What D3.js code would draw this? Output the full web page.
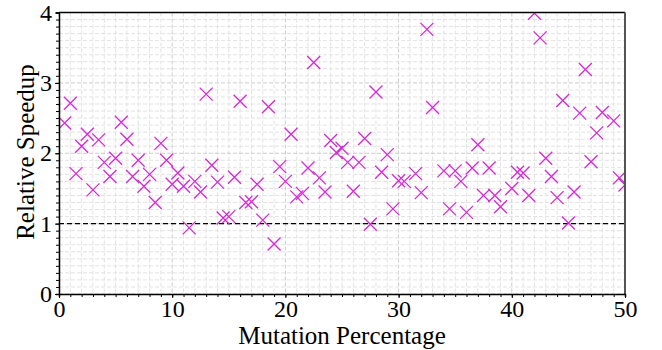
<!DOCTYPE html>
<html>
<head>
<meta charset="utf-8">
<script src="https://cdn.jsdelivr.net/npm/d3@7"></script>
<style>
  body { margin: 0; background: #fff; }
  svg { display: block; }
</style>
</head>
<body>
<div id="chart"></div>
<script>
// mutation percentage for each run
const mutation = [
  0.5, 1.0, 1.5, 2.0, 2.5, 3.0, 3.5, 4.0, 4.5, 5.0,
  5.5, 6.0, 6.5, 7.0, 7.5, 8.0, 8.5, 9.0, 9.5, 10.0,
  10.5, 11.0, 11.5, 12.0, 12.5, 13.0, 13.5, 14.0, 14.5, 15.0,
  15.5, 16.0, 16.5, 17.0, 17.5, 18.0, 18.5, 19.0, 19.5, 20.0,
  20.5, 21.0, 21.5, 22.0, 22.5, 23.0, 23.5, 24.0, 24.5, 25.0,
  25.5, 26.0, 26.5, 27.0, 27.5, 28.0, 28.5, 29.0, 29.5, 30.0,
  30.5, 31.5, 32.0, 32.5, 33.0, 34.0, 34.5, 35.0, 35.5, 36.0,
  36.5, 37.0, 37.5, 38.0, 38.5, 39.0, 40.0, 40.5, 41.0, 41.5,
  42.0, 42.5, 43.0, 43.5, 44.0, 44.5, 45.0, 45.5, 46.0, 46.5,
  47.0, 47.5, 48.0, 49.0, 49.5, 50.0
]
// relative speedup measured at each mutation percentage
const speedup = [
  2.43, 2.71, 1.71, 2.10, 2.27, 1.48, 2.19, 1.87, 1.67, 1.93,
  2.44, 2.20, 1.67, 1.90, 1.53, 1.70, 1.30, 2.14, 1.90, 1.56,
  1.72, 1.53, 0.94, 1.60, 1.45, 2.84, 1.83, 1.59, 1.08, 1.10,
  1.66, 2.74, 1.30, 1.31, 1.56, 1.05, 2.66, 0.71, 1.81, 1.60,
  2.27, 1.38, 1.43, 1.79, 3.29, 1.65, 1.45, 2.18, 2.01, 2.07,
  1.87, 1.46, 1.87, 2.21, 0.99, 2.87, 1.73, 1.98, 1.21, 1.61,
  1.60, 1.71, 1.44, 3.76, 2.65, 1.75, 1.21, 1.75, 1.60, 1.16,
  1.79, 2.12, 1.40, 1.79, 1.40, 1.24, 1.50, 1.73, 1.72, 1.40,
  3.99, 3.64, 1.93, 1.67, 1.37, 2.75, 1.01, 1.45, 2.57, 3.19,
  1.88, 2.29, 2.58, 2.46, 1.65, 1.55
]
const xTicks = [0, 10, 20, 30, 40, 50]
const yTicks = [0, 1, 2, 3, 4]
const baseline = 1

const width = 662
const height = 350
const margin = {top: 12.5, right: 37, bottom: 56, left: 59}
const serif = '"Liberation Serif", "Times New Roman", Times, serif'

const data = mutation.map((m, i) => ({x: m, y: speedup[i]}))

const svg = d3.select("#chart").append("svg")
  .attr("width", width)
  .attr("height", height)

const x = d3.scaleLinear()
  .domain([0, 50])
  .range([margin.left, width - margin.right])

const y = d3.scaleLinear()
  .domain([0, 4])
  .range([height - margin.bottom, margin.top])

const minorX = d3.range(0, 51, 1)
const minorY = d3.range(0, 40.5, 1).map(v => v / 10)

// grid
const grid = svg.append("g")
grid.selectAll(".vx").data(minorX).join("line")
  .attr("x1", d => x(d)).attr("x2", d => x(d))
  .attr("y1", y(4)).attr("y2", y(0))
  .attr("stroke", d => d % 10 === 0 ? "#cccccc" : "#e2e2e2")
  .attr("stroke-width", 1)
  .attr("stroke-dasharray", "4,2")
grid.selectAll(".hy").data(minorY).join("line")
  .attr("x1", x(0)).attr("x2", x(50))
  .attr("y1", d => y(d)).attr("y2", d => y(d))
  .attr("stroke", d => Math.abs(d - Math.round(d)) < 1e-6 ? "#cccccc" : "#e2e2e2")
  .attr("stroke-width", 1)
  .attr("stroke-dasharray", "4,2")

// baseline at speedup 1
svg.append("line")
  .attr("x1", x(0)).attr("x2", x(50))
  .attr("y1", y(baseline)).attr("y2", y(baseline))
  .attr("stroke", "#000")
  .attr("stroke-width", 1.2)
  .attr("stroke-dasharray", "5,3")

// markers
svg.append("clipPath").attr("id", "plot-clip")
  .append("rect")
  .attr("x", x(0)).attr("y", y(4))
  .attr("width", x(50) - x(0)).attr("height", y(0) - y(4))

const s = 6.5
svg.append("g")
  .attr("clip-path", "url(#plot-clip)")
  .selectAll("path").data(data).join("path")
  .attr("d", d => {
    const cx = x(d.x), cy = y(d.y)
    return `M${cx - s},${cy - s}L${cx + s},${cy + s}M${cx - s},${cy + s}L${cx + s},${cy - s}`
  })
  .attr("fill", "none")
  .attr("stroke", "#d42bd4")
  .attr("stroke-width", 1.3)

// frame: top and right
svg.append("line")
  .attr("x1", x(0)).attr("x2", x(50))
  .attr("y1", y(4)).attr("y2", y(4))
  .attr("stroke", "#000").attr("stroke-width", 1.5)
svg.append("line")
  .attr("x1", x(50)).attr("x2", x(50))
  .attr("y1", y(4)).attr("y2", y(0))
  .attr("stroke", "#555").attr("stroke-width", 2)

// axes
const xAxis = g => g
  .attr("transform", `translate(0, ${y(0)})`)
  .call(d3.axisBottom(x).tickValues(minorX).tickSize(3).tickFormat(""))
  .call(g => g.select(".domain").attr("stroke-width", 1.5))
  .call(g => g.append("g")
    .call(d3.axisBottom(x).tickValues(xTicks).tickSize(4).tickPadding(2).tickFormat(d3.format("d")))
    .call(g => g.select(".domain").remove()))

const yAxis = g => g
  .attr("transform", `translate(${x(0)}, 0)`)
  .call(d3.axisLeft(y).tickValues(minorY).tickSize(3).tickFormat(""))
  .call(g => g.select(".domain").attr("stroke-width", 1.5))
  .call(g => g.append("g")
    .call(d3.axisLeft(y).tickValues(yTicks).tickSize(4).tickPadding(3).tickFormat(d3.format("d")))
    .call(g => g.select(".domain").remove()))

svg.append("g").call(xAxis)
svg.append("g").call(yAxis)
svg.selectAll(".tick text")
  .attr("fill", "#000")
  .style("font-family", serif)
  .style("font-size", "24px")

// titles
svg.append("text")
  .attr("x", (x(0) + x(50)) / 2)
  .attr("y", 344)
  .attr("text-anchor", "middle")
  .style("font-family", serif)
  .style("font-size", "25px")
  .text("Mutation Percentage")

svg.append("text")
  .attr("transform", `translate(34, 152) rotate(-90)`)
  .attr("text-anchor", "middle")
  .style("font-family", serif)
  .style("font-size", "25px")
  .text("Relative Speedup")
</script>
</body>
</html>
